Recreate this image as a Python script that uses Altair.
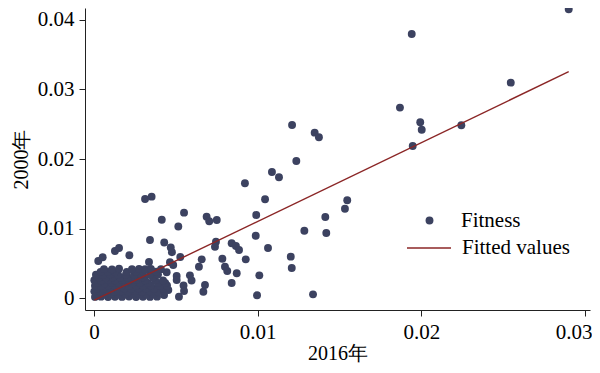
import altair as alt
import pandas as pd

# Scatter values (x = 2016年, y = 2000年)
x_vals = [
    0.02900, 0.01941, 0.02546, 0.01869, 0.01993, 0.02002, 0.02244, 0.01947,
    0.01210, 0.01348, 0.01374, 0.01236, 0.01087, 0.01130, 0.00922, 0.01045,
    0.01547, 0.01533, 0.00991, 0.01413, 0.01285, 0.01419, 0.00988, 0.00841,
    0.00867, 0.00886, 0.01063, 0.00927, 0.01202, 0.01208, 0.00872, 0.01010,
    0.00841, 0.00996, 0.01338,
    0.00312, 0.00352, 0.00414, 0.00550, 0.00515, 0.00688, 0.00704, 0.00750,
    0.00342, 0.00429, 0.00469, 0.00476, 0.00527, 0.00216, 0.00128, 0.00153,
    0.00026, 0.00053, 0.00336, 0.00658, 0.00641, 0.00464, 0.00484, 0.00745,
    0.00739, 0.00784, 0.00800, 0.00814, 0.00505, 0.00505, 0.00586, 0.00596,
    0.00678, 0.00668, 0.00547, 0.00550, 0.00519, 0.00444, 0.00454, 0.00428,
    0.00414,
    # dense cluster near the origin
    0.00006, 0.00043, 0.00086, 0.00128, 0.00171, 0.00214, 0.00257, 0.00299, 0.00342, 0.00385,
    0.00024, 0.00065, 0.00107, 0.00150, 0.00192, 0.00235, 0.00278, 0.00320, 0.00363,
    0.00002, 0.00037, 0.00079, 0.00122, 0.00165, 0.00208, 0.00250, 0.00293, 0.00342, 0.00391,
    0.00020, 0.00058, 0.00100, 0.00143, 0.00186, 0.00229, 0.00272, 0.00317, 0.00366, 0.00420,
    0.00006, 0.00043, 0.00086, 0.00128, 0.00171, 0.00214, 0.00257, 0.00299, 0.00348, 0.00403, 0.00446,
    0.00024, 0.00065, 0.00107, 0.00150, 0.00192, 0.00235, 0.00280, 0.00330, 0.00390, 0.00435,
    0.00002, 0.00043, 0.00086, 0.00128, 0.00171, 0.00214, 0.00257, 0.00312, 0.00373, 0.00422,
    0.00030, 0.00072, 0.00115, 0.00160, 0.00205, 0.00250, 0.00300, 0.00360,
    0.00012, 0.00055, 0.00098, 0.00147, 0.00195, 0.00244, 0.00287, 0.00342, 0.00391,
    0.00040, 0.00085, 0.00130, 0.00200, 0.00255, 0.00300, 0.00380,
    0.00061, 0.00110, 0.00153, 0.00232, 0.00275, 0.00312, 0.00348, 0.00409,
]
y_vals = [
    0.04152, 0.03797, 0.03098, 0.02739, 0.02529, 0.02422, 0.02486, 0.02188,
    0.02490, 0.02379, 0.02313, 0.01973, 0.01815, 0.01739, 0.01652, 0.01422,
    0.01408, 0.01287, 0.01197, 0.01168, 0.00971, 0.00938, 0.00899, 0.00790,
    0.00751, 0.00694, 0.00723, 0.00560, 0.00598, 0.00435, 0.00359, 0.00330,
    0.00220, 0.00043, 0.00057,
    0.01427, 0.01460, 0.01129, 0.01230, 0.01032, 0.01172, 0.01106, 0.01125,
    0.00838, 0.00802, 0.00730, 0.00662, 0.00593, 0.00618, 0.00680, 0.00723,
    0.00536, 0.00589, 0.00522, 0.00560, 0.00453, 0.00519, 0.00478, 0.00813,
    0.00741, 0.00568, 0.00454, 0.00392, 0.00320, 0.00263, 0.00330, 0.00256,
    0.00191, 0.00095, 0.00184, 0.00105, 0.00023, 0.00374, 0.00119, 0.00047,
    0.00191,
    0.00020, 0.00024, 0.00018, 0.00022, 0.00020, 0.00025, 0.00019, 0.00022, 0.00020, 0.00024,
    0.00060, 0.00057, 0.00062, 0.00058, 0.00061, 0.00059, 0.00063, 0.00058, 0.00060,
    0.00100, 0.00096, 0.00104, 0.00098, 0.00102, 0.00097, 0.00103, 0.00099, 0.00101, 0.00096,
    0.00140, 0.00137, 0.00143, 0.00139, 0.00141, 0.00138, 0.00142, 0.00140, 0.00139, 0.00141,
    0.00180, 0.00176, 0.00184, 0.00178, 0.00182, 0.00177, 0.00183, 0.00179, 0.00181, 0.00176, 0.00184,
    0.00220, 0.00217, 0.00223, 0.00219, 0.00221, 0.00218, 0.00222, 0.00220, 0.00219, 0.00221,
    0.00260, 0.00256, 0.00264, 0.00258, 0.00262, 0.00257, 0.00263, 0.00259, 0.00261, 0.00256,
    0.00300, 0.00297, 0.00303, 0.00299, 0.00301, 0.00298, 0.00302, 0.00300,
    0.00340, 0.00336, 0.00344, 0.00338, 0.00342, 0.00337, 0.00343, 0.00339, 0.00341,
    0.00380, 0.00377, 0.00383, 0.00379, 0.00381, 0.00378, 0.00382,
    0.00420, 0.00416, 0.00424, 0.00418, 0.00422, 0.00417, 0.00423, 0.00419,
]

# Fitted values line endpoints
fit_x = [0.00002, 0.02900]
fit_y = [-0.00025, 0.03256]

x_ticks = [0, 0.01, 0.02, 0.03]
y_ticks = [0, 0.01, 0.02, 0.03, 0.04]

FONT = "Liberation Serif"
POINT_COLOR = "#3c4260"
LINE_COLOR = "#8b2626"

pts = pd.DataFrame({"x": x_vals, "y": y_vals})
fit = pd.DataFrame({"x": fit_x, "y": fit_y})

xscale = alt.Scale(domain=[-0.00055, 0.0303], nice=False, zero=False)
yscale = alt.Scale(domain=[-0.00168, 0.0417], nice=False, zero=False)

xaxis = alt.Axis(
    values=x_ticks, format="~g", title="2016年", grid=False,
    labelAlign=alt.condition("datum.value >= 0.029", alt.value("right"), alt.value("center")),
    labelOffset=alt.condition("datum.value >= 0.029", alt.value(7), alt.value(0)),
)
yaxis = alt.Axis(values=y_ticks, format="~g", title="2000年", grid=False)

points = alt.Chart(pts).mark_point(filled=True, size=62, opacity=1).encode(
    x=alt.X("x:Q", scale=xscale, axis=xaxis),
    y=alt.Y("y:Q", scale=yscale, axis=yaxis),
    color=alt.Color(
        "series:N",
        scale=alt.Scale(domain=["Fitness"], range=[POINT_COLOR]),
        legend=alt.Legend(
            title=None, orient="none", legendX=334, legendY=202,
            symbolType="circle", symbolSize=62, labelOffset=21, padding=0,
            symbolStrokeWidth=0, symbolOpacity=1,
        ),
    ),
).transform_calculate(series="'Fitness'")

line = alt.Chart(fit).mark_line(strokeWidth=1.4).encode(
    x=alt.X("x:Q", scale=xscale),
    y=alt.Y("y:Q", scale=yscale),
    stroke=alt.Stroke(
        "series:N",
        scale=alt.Scale(domain=["Fitted values"], range=[LINE_COLOR]),
        legend=alt.Legend(
            title=None, orient="none", legendX=321, legendY=217,
            symbolType="stroke", symbolSize=1936, symbolStrokeWidth=1.4,
            labelOffset=10, padding=0,
        ),
    ),
).transform_calculate(series="'Fitted values'")

chart = (
    alt.layer(points, line)
    .resolve_scale(color="independent", stroke="independent")
    .properties(
        width=505,
        height=302,
        autosize=alt.AutoSizeParams(type="none"),
        padding={"left": 77, "top": 0, "right": 2, "bottom": 55},
    )
    .configure_view(stroke=None)
    .configure_axis(
        labelFont=FONT, titleFont=FONT, labelFontSize=21, titleFontSize=20,
        labelColor="black", titleColor="black", titleFontWeight="normal",
        domainColor="#222222", domainWidth=1, tickColor="#222222", tickSize=6, tickWidth=1,
        labelPadding=5,
    )
    .configure_axisY(labelAngle=0, titlePadding=6)
    .configure_axisX(titlePadding=1)
    .configure_legend(labelFont=FONT, labelFontSize=21, labelColor="black")
)

chart.save("out.html", embed_options={"renderer": "svg", "actions": False})
